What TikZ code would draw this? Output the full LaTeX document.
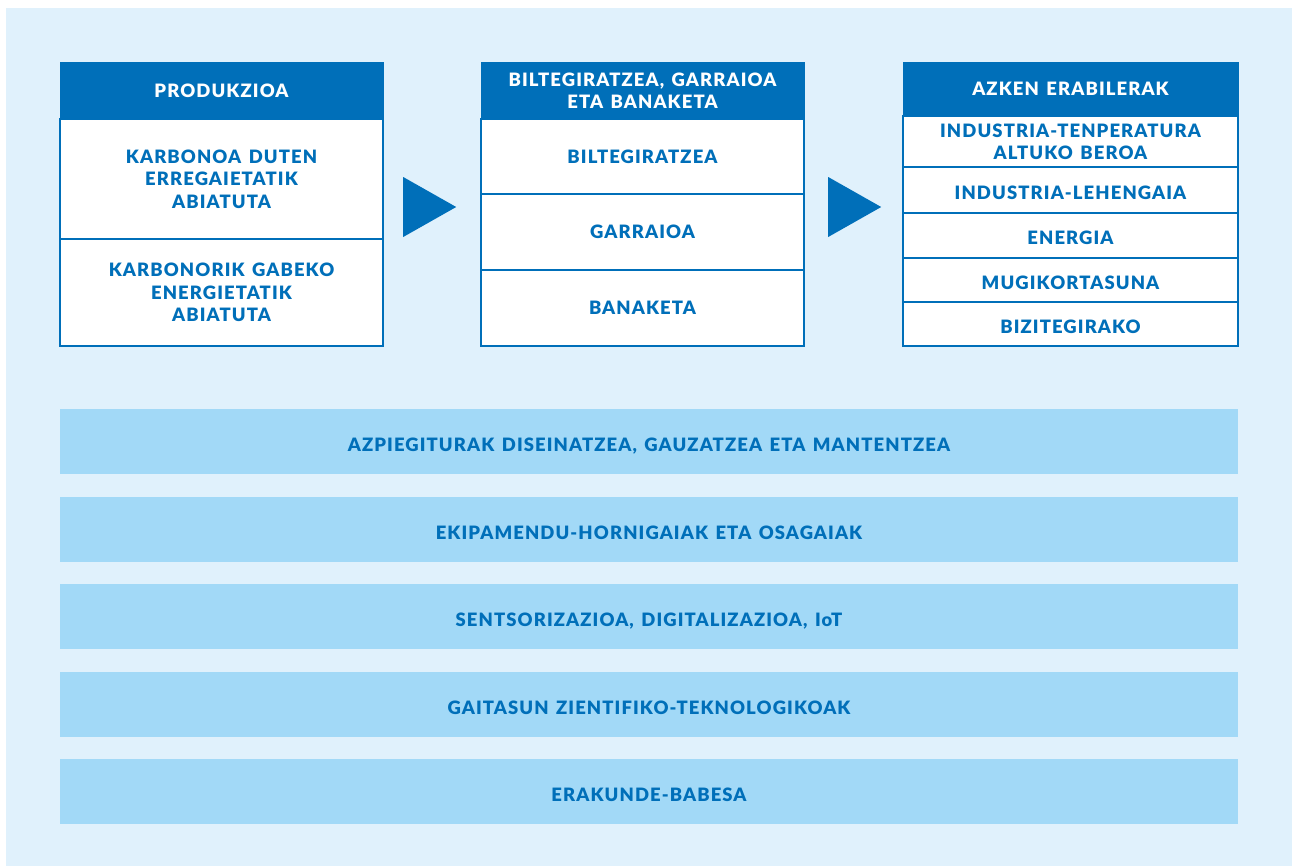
\documentclass[tikz,border=0pt]{standalone}
\usepackage{fontspec}
\setmainfont{Lato}[BoldFont={Lato Black}, LetterSpace=6, WordSpace=1.4]
\usetikzlibrary{positioning, shapes.geometric}
\definecolor{kblue}{HTML}{006FB9}
\definecolor{kback}{HTML}{E0F1FC}
\definecolor{kband}{HTML}{A2D9F7}
\tikzset{boxfont/.style={font=\bfseries\fontsize{18.5}{22.5}\selectfont}}
\tikzset{hdr/.style={boxfont, fill=kblue, draw=kblue, text=white, inner sep=0pt, outer sep=0pt, align=center}}
\tikzset{cell/.style={boxfont, fill=white, draw=kblue, line width=1.2bp, text=kblue, inner sep=0pt, outer sep=0pt, align=center}}
\tikzset{lowcell/.style={cell, text height=18bp, text depth=0pt}}
\tikzset{band/.style={boxfont, fill=kband, text=kblue, inner sep=0pt, text height=20bp, text depth=0pt, minimum width=1178bp, minimum height=65bp}}
\tikzset{tri/.style={isosceles triangle, isosceles triangle stretches, fill=kblue, inner sep=0pt, minimum width=60bp, minimum height=53bp, anchor=west}}

\begin{document}
\begin{tikzpicture}[x=1bp, y=-1bp]
    \useasboundingbox (0,0) rectangle (1292,866);
    \fill[kback] (6,8) rectangle (1292,866);

    % produkzioa
    \node[hdr, minimum width=323bp, minimum height=57bp, anchor=north west] (prod) at (60,62) {PRODUKZIOA};
    \node[cell, minimum width=323bp, minimum height=120bp, below=0pt of prod] (prod1) {KARBONOA DUTEN\\ERREGAIETATIK\\ABIATUTA};
    \node[cell, minimum width=323bp, minimum height=107bp, below=0pt of prod1] (prod2) {KARBONORIK GABEKO\\ENERGIETATIK\\ABIATUTA};

    % biltegiratzea
    \node[hdr, minimum width=323bp, minimum height=57bp, anchor=north west] (bilt) at (481,62) {BILTEGIRATZEA, GARRAIOA\\ETA BANAKETA};
    \node[cell, minimum width=323bp, minimum height=75bp, below=0pt of bilt] (bilt1) {BILTEGIRATZEA};
    \node[cell, minimum width=323bp, minimum height=76bp, below=0pt of bilt1] (bilt2) {GARRAIOA};
    \node[cell, minimum width=323bp, minimum height=76bp, below=0pt of bilt2] (bilt3) {BANAKETA};

    % azken erabilerak
    \node[hdr, minimum width=335bp, minimum height=54bp, anchor=north west] (azk) at (903,62) {AZKEN ERABILERAK};
    \node[cell, minimum width=335bp, minimum height=51bp, below=0pt of azk] (azk1) {INDUSTRIA-TENPERATURA\\ALTUKO BEROA};
    \node[lowcell, minimum width=335bp, minimum height=46bp, below=0pt of azk1] (azk2) {INDUSTRIA-LEHENGAIA};
    \node[lowcell, minimum width=335bp, minimum height=45bp, below=0pt of azk2] (azk3) {ENERGIA};
    \node[lowcell, minimum width=335bp, minimum height=44bp, below=0pt of azk3] (azk4) {MUGIKORTASUNA};
    \node[lowcell, minimum width=335bp, minimum height=44bp, below=0pt of azk4] (azk5) {BIZITEGIRAKO};

    % geziak
    \node[tri] (gezi1) at (403,207) {};
    \node[tri] (gezi2) at (828,207) {};

    % zerrendak
    \node[band] (zer1) at (649,441.5) {AZPIEGITURAK DISEINATZEA, GAUZATZEA ETA MANTENTZEA};
    \node[band] (zer2) at (649,529.5) {EKIPAMENDU-HORNIGAIAK ETA OSAGAIAK};
    \node[band] (zer3) at (649,616.5) {SENTSORIZAZIOA, DIGITALIZAZIOA, IoT};
    \node[band] (zer4) at (649,704.5) {GAITASUN ZIENTIFIKO-TEKNOLOGIKOAK};
    \node[band] (zer5) at (649,791.5) {ERAKUNDE-BABESA};
\end{tikzpicture}
\end{document}
